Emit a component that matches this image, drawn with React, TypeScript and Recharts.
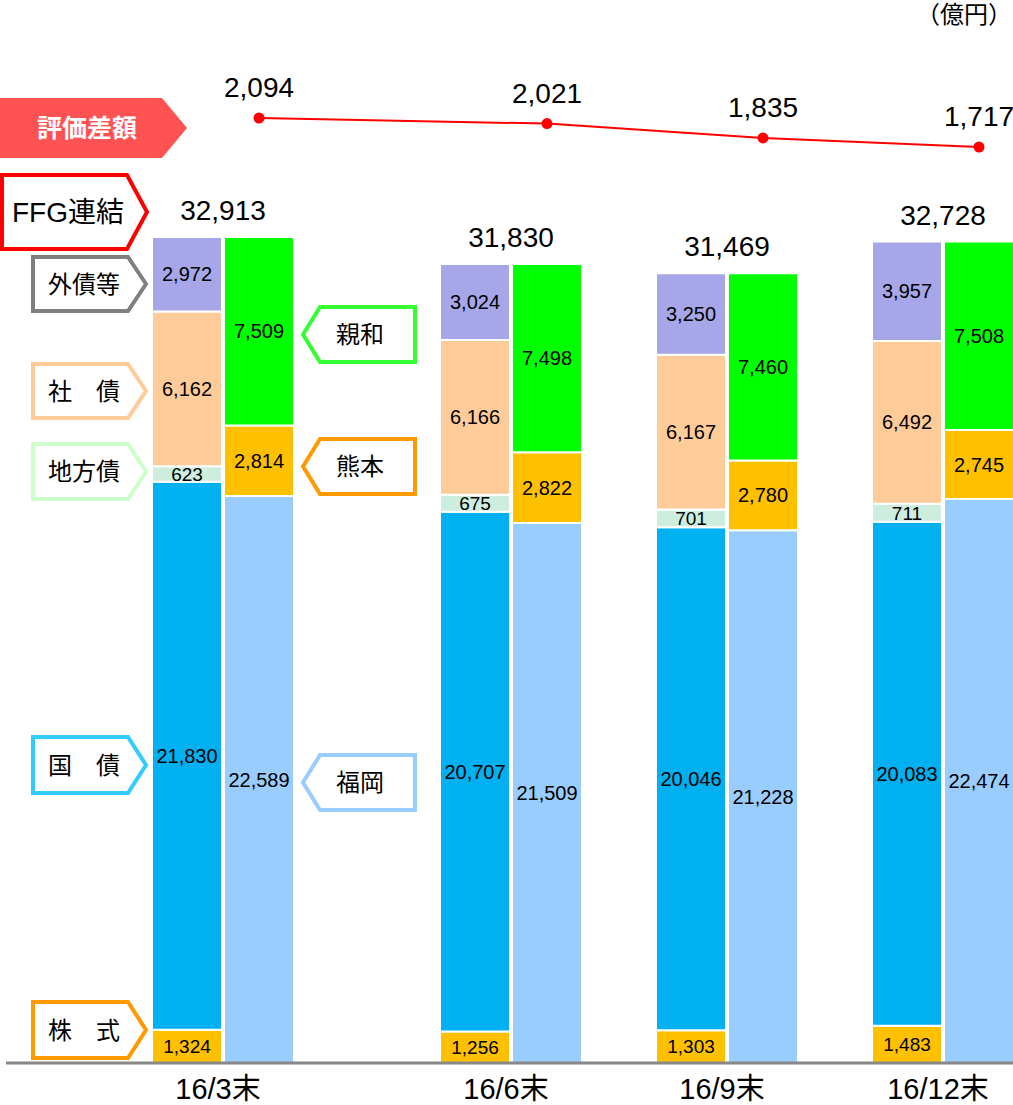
import React from "react";
import { Bar, ComposedChart, LabelList, Line, XAxis, YAxis } from "recharts";

const periods = ["16/3末", "16/6末", "16/9末", "16/12末"];

// 種類別（左の棒）
const kabushiki = [1324, 1256, 1303, 1483];
const kokusai = [21830, 20707, 20046, 20083];
const chihousai = [623, 675, 701, 711];
const shasai = [6162, 6166, 6167, 6492];
const gaisai = [2972, 3024, 3250, 3957];
const ffgTotal = [32913, 31830, 31469, 32728];

// 銀行別（右の棒）
const fukuoka = [22589, 21509, 21228, 22474];
const kumamoto = [2814, 2822, 2780, 2745];
const shinwa = [7509, 7498, 7460, 7508];

// 評価差額
const sagaku = [2094, 2021, 1835, 1717];

// 左棒・右棒をそれぞれ1スロットにして、期の間に空きスロットを挟む
const gapsBefore = [0, 2, 1, 1];

const rows: any[] = [];
const tickLabel: Record<string, string> = {};
periods.forEach((p, i) => {
    for (let g = 0; g < gapsBefore[i]; g++) rows.push({ key: `G${i}-${g}` });
    tickLabel[`L${i}`] = p;
    rows.push({
        key: `L${i}`,
        kabushiki: kabushiki[i],
        kokusai: kokusai[i],
        chihousai: chihousai[i],
        shasai: shasai[i],
        gaisai: gaisai[i],
        total: ffgTotal[i],
    });
    rows.push({
        key: `R${i}`,
        fukuoka: fukuoka[i],
        kumamoto: kumamoto[i],
        shinwa: shinwa[i],
        sagaku: sagaku[i],
    });
});

const FONT = "'Liberation Sans', Arial, 'Noto Sans CJK JP', sans-serif";
const fmt = (v: any) => (v == null ? "" : Number(v).toLocaleString("en-US"));

const PeriodTick = (props: any) => {
    const { x, y, payload } = props;
    const label = tickLabel[payload.value];
    if (!label) return null;
    return (
        <text x={x + 31} y={y + 34} textAnchor="middle" fontSize={29} fill="#000">
            {label}
        </text>
    );
};

const TotalLabel = (props: any) => {
    const { x, y, width, value } = props;
    if (value == null) return null;
    return (
        <text x={Number(x) + Number(width) + 1} y={Number(y) - 17} textAnchor="middle" fontSize={28} fill="#000">
            {fmt(value)}
        </text>
    );
};

type TagProps = {
    x0: number;
    x1: number;
    tip: number;
    y0: number;
    y1: number;
    left?: boolean;
    stroke?: string;
    fill?: string;
    text: string;
    tx: number;
    color?: string;
    size?: number;
    bold?: boolean;
};

// 矢印型のラベル
function Tag({ x0, x1, tip, y0, y1, left, stroke, fill, text, tx, color, size, bold }: TagProps) {
    const ym = (y0 + y1) / 2;
    const pts = left
        ? `${tip},${ym} ${x0},${y0} ${x1},${y0} ${x1},${y1} ${x0},${y1}`
        : `${x0},${y0} ${x1},${y0} ${tip},${ym} ${x1},${y1} ${x0},${y1}`;
    return (
        <g>
            <polygon points={pts} fill={fill || "#fff"} stroke={stroke || "none"} strokeWidth={4} />
            <text
                x={tx}
                y={ym}
                textAnchor="middle"
                dominantBaseline="central"
                fontSize={size || 24}
                fontWeight={bold ? "bold" : "normal"}
                fill={color || "#000"}
            >
                {text}
            </text>
        </g>
    );
}

const segLabel = { position: "center" as const, formatter: fmt, fill: "#000", fontSize: 20 };

export default function App() {
    return (
        <div
            style={{
                position: "absolute",
                left: 0,
                top: 0,
                width: 1013,
                height: 1105,
                overflow: "hidden",
                background: "#fff",
                fontFamily: FONT,
            }}
        >
            <div style={{ position: "absolute", left: 0, top: 0 }}>
                <ComposedChart
                    width={1015}
                    height={1105}
                    data={rows}
                    margin={{ top: 0, right: 0, left: 6, bottom: 0 }}
                    barSize={70}
                    barGap={0}
                >
                    <XAxis
                        dataKey="key"
                        height={42}
                        padding={{ left: 145, right: 0 }}
                        tickLine={false}
                        tickSize={0}
                        interval={0}
                        axisLine={{ stroke: "#888", strokeWidth: 3 }}
                        tick={<PeriodTick />}
                    />
                    <YAxis
                        width={0}
                        domain={[0, 42350]}
                        allowDataOverflow
                        tick={false}
                        tickLine={false}
                        axisLine={{ stroke: "#888", strokeWidth: 3 }}
                    />
                    <YAxis yAxisId="line" hide domain={[-10192, 3628]} allowDataOverflow />
                    <Bar dataKey="kabushiki" stackId="s" fill="#FFC000" stroke="#fff" strokeWidth={2} isAnimationActive={false}>
                        <LabelList dataKey="kabushiki" {...segLabel} fontSize={19} />
                    </Bar>
                    <Bar dataKey="kokusai" stackId="s" fill="#00B0F0" stroke="#fff" strokeWidth={2} isAnimationActive={false}>
                        <LabelList dataKey="kokusai" {...segLabel} />
                    </Bar>
                    <Bar dataKey="chihousai" stackId="s" fill="#CDEEDF" stroke="#fff" strokeWidth={2} isAnimationActive={false}>
                        <LabelList dataKey="chihousai" {...segLabel} fontSize={19} />
                    </Bar>
                    <Bar dataKey="shasai" stackId="s" fill="#FFCC99" stroke="#fff" strokeWidth={2} isAnimationActive={false}>
                        <LabelList dataKey="shasai" {...segLabel} />
                    </Bar>
                    <Bar dataKey="gaisai" stackId="s" fill="#A6A6E8" stroke="#fff" strokeWidth={2} isAnimationActive={false}>
                        <LabelList dataKey="gaisai" {...segLabel} />
                        <LabelList dataKey="total" content={<TotalLabel />} />
                    </Bar>
                    <Bar dataKey="fukuoka" stackId="s" fill="#99CCFF" stroke="#fff" strokeWidth={2} isAnimationActive={false}>
                        <LabelList dataKey="fukuoka" {...segLabel} />
                    </Bar>
                    <Bar dataKey="kumamoto" stackId="s" fill="#FFC000" stroke="#fff" strokeWidth={2} isAnimationActive={false}>
                        <LabelList dataKey="kumamoto" {...segLabel} />
                    </Bar>
                    <Bar dataKey="shinwa" stackId="s" fill="#00FF00" stroke="#fff" strokeWidth={2} isAnimationActive={false}>
                        <LabelList dataKey="shinwa" {...segLabel} />
                    </Bar>
                    <Line
                        yAxisId="line"
                        dataKey="sagaku"
                        connectNulls
                        stroke="#FF0000"
                        strokeWidth={2}
                        dot={{ r: 5.5, fill: "#FF0000", stroke: "#FF0000", strokeWidth: 0 }}
                        isAnimationActive={false}
                    >
                        <LabelList dataKey="sagaku" position="top" offset={21} formatter={fmt} fill="#000" fontSize={28} />
                    </Line>
                </ComposedChart>
            </div>

            <svg
                width={1013}
                height={1105}
                style={{ position: "absolute", left: 0, top: 0, pointerEvents: "none" }}
            >
                <text x={1012} y={23} textAnchor="end" fontSize={24} fill="#000">
                    （億円）
                </text>
                <Tag x0={-4} x1={162} tip={187} y0={98} y1={158} fill="#FF5353" text="評価差額" tx={87} color="#fff" size={25} bold />
                <Tag x0={2} x1={127} tip={147} y0={175} y1={249} stroke="#FF0000" text="FFG連結" tx={68} size={28} />
                <Tag x0={33} x1={128} tip={146} y0={257} y1={311} stroke="#808080" text="外債等" tx={84} />
                <Tag x0={33} x1={128} tip={146} y0={364} y1={418} stroke="#FFCC99" text="社　債" tx={84} />
                <Tag x0={33} x1={128} tip={146} y0={444} y1={499} stroke="#CCFFCC" text="地方債" tx={84} />
                <Tag x0={33} x1={128} tip={146} y0={737} y1={793} stroke="#33CCFF" text="国　債" tx={84} />
                <Tag x0={33} x1={128} tip={146} y0={1002} y1={1058} stroke="#FF9900" text="株　式" tx={84} />
                <Tag left x0={320} x1={415} tip={303} y0={307} y1={362} stroke="#33FF33" text="親和" tx={360} />
                <Tag left x0={320} x1={415} tip={303} y0={439} y1={494} stroke="#FF9900" text="熊本" tx={360} />
                <Tag left x0={320} x1={415} tip={303} y0={755} y1={810} stroke="#99CCFF" text="福岡" tx={360} />
            </svg>
        </div>
    );
}
